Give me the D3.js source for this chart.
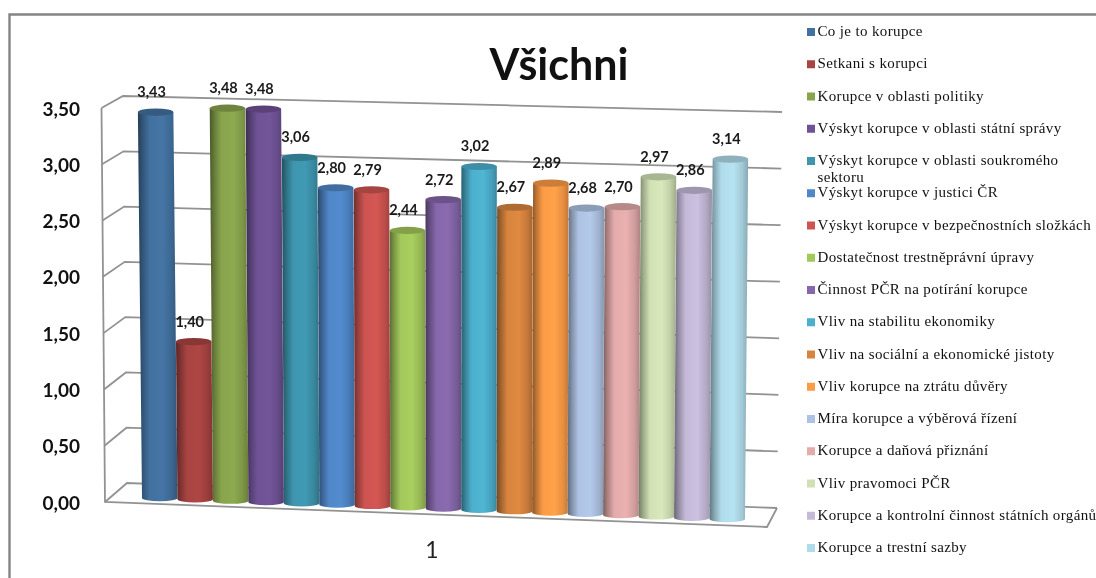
<!DOCTYPE html>
<html><head><meta charset="utf-8">
<script src="https://cdn.jsdelivr.net/npm/d3@7"></script>
<style>html,body{margin:0;padding:0;background:#fff}svg{display:block;filter:blur(.4px)}</style>
</head><body><svg id="c" width="1096" height="578"></svg>
<script>
const categories=["Co je to korupce","Setkani s korupci","Korupce v oblasti politiky","Výskyt korupce v oblasti státní správy","Výskyt korupce v oblasti soukromého sektoru","Výskyt korupce v justici ČR","Výskyt korupce v bezpečnostních složkách","Dostatečnost trestněprávní úpravy","Činnost PČR na potírání korupce","Vliv na stabilitu ekonomiky","Vliv na sociální a ekonomické jistoty","Vliv korupce na ztrátu důvěry","Míra korupce a výběrová řízení","Korupce a daňová přiznání","Vliv pravomoci PČR","Korupce a kontrolní činnost státních orgánů","Korupce a trestní sazby"];
const values=[3.43,1.40,3.48,3.48,3.06,2.80,2.79,2.44,2.72,3.02,2.67,2.89,2.68,2.70,2.97,2.86,3.14];
const colors=["#42719f","#a84442","#88a44d","#6f5295","#3e95ae","#5087c8","#cd5451","#a3c85c","#8567aa","#4cb0cd","#d8843f","#fd9c46","#aec3e3","#e3abab","#d1e1b5","#c4b9d7","#b0dbea"];
const yTicks=[0,0.5,1,1.5,2,2.5,3,3.5];
const svg=d3.select("#c"),defs=svg.append("defs");
const fmt=v=>d3.format(".2f")(v).replace(".",",");

// frame
svg.append("path").attr("d","M9.5,578V14.5H1096").attr("fill","none").attr("stroke","#858585").attr("stroke-width",2.4);

// perspective walls
const yFront=d3.scaleLinear().domain([0,3.5]).range([502,108]);
const yBackL=d3.scaleLinear().domain([0,3.5]).range([483,96]);
const yBackR=d3.scaleLinear().domain([0,3.5]).range([508,112]);
const xFront=d3.scaleLinear().domain([0,3.5]).range([105,101.5]);
const xBackL=d3.scaleLinear().domain([0,3.5]).range([127,123]);
const xBackR=d3.scaleLinear().domain([0,3.5]).range([777,782]);
const grid=svg.append("g").attr("fill","none").attr("stroke","#929292").attr("stroke-width",1.8);
const line=d3.line();
grid.selectAll("path.g").data(yTicks).join("path").attr("class","g")
 .attr("d",v=>line([[xFront(v),yFront(v)],[xBackL(v),yBackL(v)],[xBackR(v),yBackR(v)]]));
grid.append("path").attr("d",line([[xFront(3.5),yFront(3.5)],[xFront(0),yFront(0)],[767,527],[xBackR(0),yBackR(0)]]));

// axis labels
const yAxis=d3.axisLeft(yFront).tickValues(yTicks).tickSize(0).tickFormat(fmt);
const ag=svg.append("g").attr("transform","translate(82,1)").call(yAxis);
ag.select(".domain").remove();
ag.selectAll("text").attr("font-family","Lato").attr("font-weight",700).attr("font-size",19).attr("fill","#111").attr("x",-2);

// bars
const xBase=d3.scaleBand().domain(categories).range([142,745]);
const yBase=d3.scaleLinear().domain([0,16]).range([498,519]);
const unit=d3.scaleLinear().domain([0,16]).range([112.5,114.6]);
const lean=d3.scaleLinear().domain([0,16]).range([-1.2,1.0]);
const bw=xBase.bandwidth();
categories.forEach((c,i)=>{
  const col=d3.color(colors[i]);
  const g=defs.append("linearGradient").attr("id","g"+i);
  [[0,col.darker(1.7)],[.12,col.darker(.8)],[.3,col],[.62,col.brighter(.1)],[.85,col.darker(.25)],[1,col.darker(.75)]]
    .forEach(s=>g.append("stop").attr("offset",s[0]).attr("stop-color",s[1]));
});
const bars=svg.append("g").selectAll("g").data(values).join("g");
bars.append("path").attr("fill",(d,i)=>`url(#g${i})`).attr("d",(d,i)=>{
  const xb=xBase(categories[i]),yb=yBase(i),yt=yb-d*unit(i),xt=xb+d*lean(i);
  return `M${xt},${yt}L${xb},${yb}A${bw/2},3.2 0 0 0 ${xb+bw},${yb}L${xt+bw},${yt}Z`;
});
bars.append("ellipse").attr("fill",(d,i)=>d3.color(colors[i]).darker(.6))
 .attr("cx",(d,i)=>xBase(categories[i])+d*lean(i)+bw/2)
 .attr("cy",(d,i)=>yBase(i)-d*unit(i)).attr("rx",bw/2).attr("ry",3.6);
bars.append("text").text(d=>fmt(d)).attr("text-anchor","middle")
 .attr("x",(d,i)=>xBase(categories[i])+d*lean(i)+bw/2-4)
 .attr("y",(d,i)=>yBase(i)-d*unit(i)-15)
 .attr("font-family","Lato").attr("font-weight",700).attr("font-size",14.5).attr("fill","#1a1a1a");

// title + category
svg.append("text").text("Všichni").attr("x",559).attr("y",80).attr("text-anchor","middle")
 .attr("font-family","Lato").attr("font-weight",700).attr("font-size",43).attr("fill","#111");
svg.append("text").text("1").attr("x",432).attr("y",558).attr("text-anchor","middle")
 .attr("font-family","Lato").attr("font-size",23).attr("fill","#222");

// legend
const legY=d3.scaleLinear().domain([0,16]).range([32,548]);
const leg=svg.append("g").selectAll("g").data(categories).join("g");
leg.append("rect").attr("x",807).attr("y",(d,i)=>legY(i)-4).attr("width",8).attr("height",8).attr("fill",(d,i)=>colors[i]);
leg.each(function(d,i){
  const t=d3.select(this).append("text").attr("x",817.5).attr("y",legY(i)+4)
    .attr("font-family","Liberation Serif").attr("font-size",15).attr("letter-spacing",.36).attr("fill","#111");
  if(i===4){
    t.append("tspan").text("Výskyt korupce v oblasti soukromého");
    t.append("tspan").attr("x",817.5).attr("dy",17).text("sektoru");
  } else t.text(d);
});
</script></body></html>
